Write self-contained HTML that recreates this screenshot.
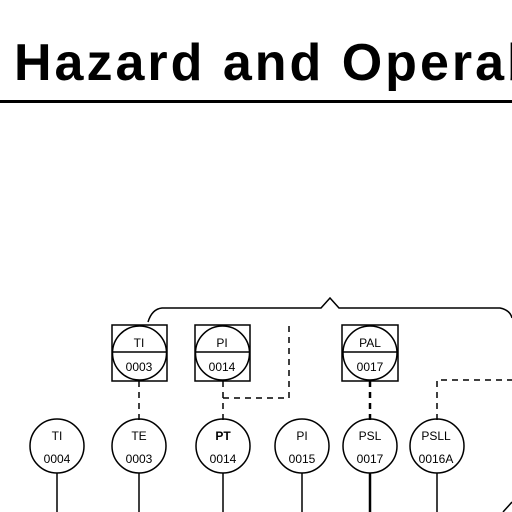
<!DOCTYPE html>
<html><head><style>
body{margin:0;width:512px;height:512px;background:#fff;overflow:hidden;position:relative}
.clip{position:absolute;left:0;top:0;width:512px;height:100px;overflow:hidden}
h1{position:absolute;left:14px;top:33px;margin:0;font:bold 52px "Liberation Sans",sans-serif;white-space:nowrap;letter-spacing:3px}
.rule{position:absolute;left:0;top:100px;width:512px;height:3px;background:#000}
svg{position:absolute;left:0;top:0}
text{font-family:"Liberation Sans",sans-serif;font-size:12px;text-anchor:middle}
</style></head><body>
<div class="clip"><h1>Hazard and Operability</h1></div>
<div class="rule"></div>
<svg width="512" height="512" fill="none" stroke="#000" stroke-width="1.5">
<path d="M148 322 Q152 309 162 308 L321 308 L330 298 L339 308 L500 308 Q510 310 512 318"/>
<g stroke-dasharray="6,5">
<path d="M139 381 V420"/>
<path d="M223 381 V420 M223 398 H289 V321"/>
<path d="M370 381 V420" stroke-width="2.5"/>
<path d="M437 420 V380 H512"/>
</g>
<path d="M57 473 V512 M139 473 V512 M223 473 V512 M302 473 V512 M370 473 V512 M437 473 V512"/>
<path d="M370 473 V512" stroke-width="2.5"/>
<path d="M503 512 L512 502"/>
<g>
<rect x="112" y="325" width="55" height="56"/><circle cx="139.5" cy="353" r="27"/><line x1="112.5" y1="352" x2="166.5" y2="352"/>
<rect x="195" y="325" width="55" height="56"/><circle cx="222.5" cy="353" r="27"/><line x1="195.5" y1="352" x2="249.5" y2="352"/>
<rect x="342" y="325" width="56" height="56"/><circle cx="370" cy="353" r="27"/><line x1="343" y1="352" x2="397" y2="352"/>
</g>
<g>
<circle cx="57" cy="446" r="27"/><circle cx="139" cy="446" r="27"/><circle cx="223" cy="446" r="27"/>
<circle cx="302" cy="446" r="27"/><circle cx="370" cy="446" r="27"/><circle cx="437" cy="446" r="27"/>
</g>
<g fill="#000" stroke="none">
<text x="139" y="347">TI</text><text x="139" y="371">0003</text>
<text x="222" y="347">PI</text><text x="222" y="371">0014</text>
<text x="370" y="347">PAL</text><text x="370" y="371">0017</text>
<text x="57" y="440">TI</text><text x="57" y="463">0004</text>
<text x="139" y="440">TE</text><text x="139" y="463">0003</text>
<text x="223" y="440" font-weight="bold">PT</text><text x="223" y="463">0014</text>
<text x="302" y="440">PI</text><text x="302" y="463">0015</text>
<text x="370" y="440">PSL</text><text x="370" y="463">0017</text>
<text x="436" y="440">PSLL</text><text x="436" y="463">0016A</text>
</g>
</svg>
</body></html>
